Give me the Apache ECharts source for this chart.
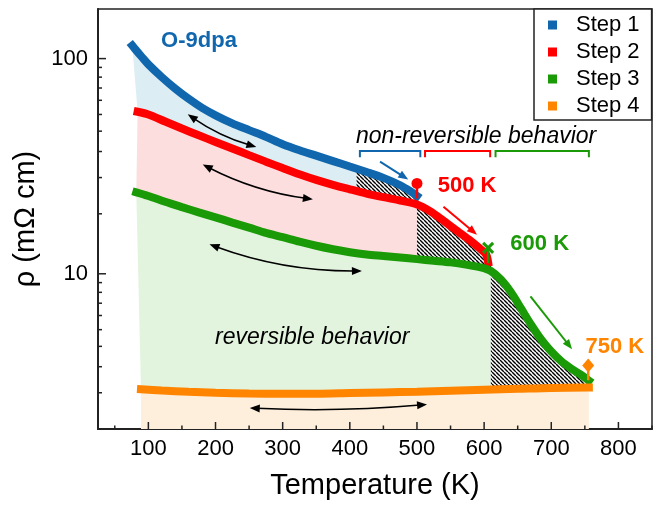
<!DOCTYPE html>
<html>
<head>
<meta charset="utf-8">
<script src="https://cdn.jsdelivr.net/npm/echarts@6/dist/echarts.min.js"></script>
<style>
  html, body { margin: 0; padding: 0; background: #fff; }
  #chart { width: 657px; height: 505px; }
</style>
</head>
<body>
<div id="chart"></div>
<script>
const FONT = "'Liberation Sans', Arial, sans-serif";

// [temperature (K), resistivity (mOhm cm)]
const step1 = [[76, 115], [80, 111], [90, 102], [100, 94], [120, 82], [140, 72.5], [160, 65],
  [180, 59], [200, 54.5], [225, 50], [250, 46.5], [275, 43.3], [300, 40], [325, 37.5],
  [350, 35.4], [375, 33.4], [400, 31.5], [425, 29.7], [450, 27.9], [475, 25.8], [490, 24.2],
  [500, 23]];
const step2 = [[84, 56.6], [100, 55], [125, 51], [150, 47.3], [175, 44], [200, 41], [225, 38.2],
  [250, 35.6], [275, 33.2], [300, 31], [325, 29], [350, 27.3], [375, 25.9], [400, 24.7],
  [425, 23.6], [450, 22.7], [475, 21.9], [500, 21], [520, 19.5], [540, 17.6], [560, 15.8],
  [580, 14.2], [595, 13], [603, 12.3], [606, 11.3]];
const step3 = [[82, 23.9], [100, 23], [125, 21.6], [150, 20.4], [175, 19.3], [200, 18.3],
  [225, 17.3], [250, 16.4], [275, 15.5], [300, 14.8], [325, 14.1], [350, 13.5], [375, 13],
  [400, 12.6], [425, 12.3], [450, 12.1], [475, 11.9], [500, 11.7], [525, 11.5], [550, 11.3],
  [575, 11], [595, 10.7], [610, 10.3], [625, 9.4], [640, 8.2], [655, 6.9], [670, 5.8],
  [685, 4.95], [700, 4.35], [715, 3.92], [730, 3.62], [745, 3.38], [756, 3.19]];
const step4 = [[89, 2.91], [120, 2.87], [160, 2.83], [200, 2.8], [250, 2.78], [300, 2.77],
  [350, 2.77], [400, 2.79], [450, 2.81], [500, 2.83], [550, 2.86], [600, 2.89], [650, 2.92],
  [700, 2.95], [756, 2.96]];

const stepNames = ['Step 1', 'Step 2', 'Step 3', 'Step 4'];
const xTickMajor = [100, 200, 300, 400, 500, 600, 700, 800];
const xTickMinor = [50, 150, 250, 350, 450, 550, 650, 750, 850];
const yTickMajor = [10, 100];
const yTickMinor = [1.9, 2.8, 3.7, 4.6, 5.5, 6.4, 7.3, 8.2, 9.1, 19, 28, 37, 46, 55, 64, 73, 82, 91];

const X_MIN = 25, X_MAX = 850, Y_MIN = 1.9, Y_MAX = 170;

const C1 = '#1167ae', C2 = '#ff0000', C3 = '#1a9a06', C4 = '#ff8500';
const F1 = '#dceef4', F2 = '#fddede', F3 = '#e2f4de', F4 = '#feefdc';

// hatch pattern for the non-reversible regions
const hatch = (() => {
  const s = 4;
  const c = document.createElement('canvas');
  c.width = s; c.height = s;
  const g = c.getContext('2d');
  g.fillStyle = '#fff';
  g.fillRect(0, 0, s, s);
  g.strokeStyle = '#000';
  g.lineWidth = 1.4;
  g.beginPath();
  for (let k = -1; k <= 1; k++) {
    g.moveTo(k * s, 0);
    g.lineTo(k * s + s, s);
  }
  g.stroke();
  return { image: c, repeat: 'repeat' };
})();

// value of a curve at t (log-linear between samples), used only for fill edges
function valueAt(curve, t) {
  if (t <= curve[0][0]) return curve[0];
  const last = curve[curve.length - 1];
  if (t >= last[0]) return last;
  for (let i = 1; i < curve.length; i++) {
    const [t1, v1] = curve[i - 1], [t2, v2] = curve[i];
    if (t <= t2) {
      const f = (t - t1) / (t2 - t1);
      return [t, Math.pow(10, Math.log10(v1) + f * (Math.log10(v2) - Math.log10(v1)))];
    }
  }
}
function segment(curve, t0, t1) {
  const a = Math.max(t0, curve[0][0]);
  const b = Math.min(t1, curve[curve.length - 1][0]);
  const inner = curve.filter(p => p[0] > a && p[0] < b);
  return [valueAt(curve, a), ...inner, valueAt(curve, b)];
}

function band(upper, lower, t0, t1, fill) {
  return {
    type: 'custom', silent: true, z: 1, data: [0],
    renderItem: (params, api) => {
      const top = segment(upper, t0, t1);
      const bottom = lower
        ? segment(lower, t0, t1).reverse()
        : [[top[top.length - 1][0], Y_MIN], [top[0][0], Y_MIN]];
      return {
        type: 'polygon',
        shape: { points: top.concat(bottom).map(p => api.coord(p)) },
        style: { fill: fill }
      };
    }
  };
}

function lineSeries(name, data, color) {
  return {
    type: 'line', name: name, data: data, z: 5,
    showSymbol: false, symbol: 'rect', smooth: 0.3,
    lineStyle: { width: 8, color: color, cap: 'square' },
    itemStyle: { color: color, borderWidth: 0 }
  };
}

// annotations (data coordinates)
const texts = [
  { text: 'O-9dpa', at: [119, 121], color: C1, font: 'bold 22px', align: 'left' },
  { text: 'non-reversible behavior', at: [588, 43.5], color: '#000', font: 'italic 23px', align: 'center' },
  { text: 'reversible behavior', at: [344, 5.07], color: '#000', font: 'italic 23px', align: 'center' },
  { text: '500 K', at: [531, 25.6], color: C2, font: 'bold 22px', align: 'left' },
  { text: '600 K', at: [639, 13.7], color: C3, font: 'bold 22px', align: 'left' },
  { text: '750 K', at: [751, 4.58], color: C4, font: 'bold 22px', align: 'left' }
];
const brackets = [
  { from: 415, to: 505, color: C1 },
  { from: 512, to: 609, color: C2 },
  { from: 617, to: 756, color: C3 }
];
const bracketTop = 37.2, bracketFoot = 34.8;
const doubleArrows = [
  { from: [158.7, 55.1], to: [260.8, 38.8], sag: 3 },
  { from: [181, 32.2], to: [345, 22.2], sag: 5 },
  { from: [191, 13.7], to: [418, 10.3], sag: 7 },
  { from: [251, 2.38], to: [515, 2.47], sag: 3 }
];
const singleArrows = [
  { from: [445, 33.2], to: [487, 27.4], color: C1 },
  { from: [539.5, 20.5], to: [589.4, 15.2], color: C2 },
  { from: [669, 7.86], to: [731, 4.46], color: C3 }
];
const pins = [
  { t: 500, head: 26.3, foot: 22.4, shape: 'circle', color: C2 },
  { t: 606, head: 13.2, foot: 11.2, shape: 'cross', color: C3 },
  { t: 755, head: 3.75, foot: 3.2, shape: 'diamond', color: C4 }
];

function arrowHead(tip, dir, color) {
  const len = Math.hypot(dir[0], dir[1]) || 1;
  const ux = dir[0] / len, uy = dir[1] / len;
  const L = 10, W = 4;
  const bx = tip[0] - ux * L, by = tip[1] - uy * L;
  return {
    type: 'polygon',
    shape: { points: [tip, [bx - uy * W, by + ux * W], [bx + uy * W, by - ux * W]] },
    style: { fill: color }
  };
}

const annotationSeries = {
  type: 'custom', silent: true, z: 8, data: [0],
  renderItem: (params, api) => {
    const children = [];
    brackets.forEach(b => {
      const a = api.coord([b.from, bracketFoot]), c = api.coord([b.from, bracketTop]);
      const d = api.coord([b.to, bracketTop]), e = api.coord([b.to, bracketFoot]);
      children.push({ type: 'polyline', shape: { points: [a, c, d, e] },
        style: { stroke: b.color, lineWidth: 2, fill: null } });
    });
    doubleArrows.forEach(d => {
      const p1 = api.coord(d.from), p2 = api.coord(d.to);
      const dx = p2[0] - p1[0], dy = p2[1] - p1[1], len = Math.hypot(dx, dy);
      const nx = -dy / len, ny = dx / len;
      const cp = [(p1[0] + p2[0]) / 2 + nx * 2 * d.sag, (p1[1] + p2[1]) / 2 + ny * 2 * d.sag];
      const u1 = [p1[0] - cp[0], p1[1] - cp[1]], u2 = [p2[0] - cp[0], p2[1] - cp[1]];
      const l1 = Math.hypot(u1[0], u1[1]), l2 = Math.hypot(u2[0], u2[1]);
      const s1 = [p1[0] - u1[0] / l1 * 7, p1[1] - u1[1] / l1 * 7];
      const s2 = [p2[0] - u2[0] / l2 * 7, p2[1] - u2[1] / l2 * 7];
      children.push({ type: 'bezierCurve',
        shape: { x1: s1[0], y1: s1[1], x2: s2[0], y2: s2[1], cpx1: cp[0], cpy1: cp[1] },
        style: { stroke: '#000', lineWidth: 1.5, fill: null } });
      children.push(arrowHead(p1, u1, '#000'));
      children.push(arrowHead(p2, u2, '#000'));
    });
    singleArrows.forEach(s => {
      const p1 = api.coord(s.from), p2 = api.coord(s.to);
      const dir = [p2[0] - p1[0], p2[1] - p1[1]], len = Math.hypot(dir[0], dir[1]);
      const e = [p2[0] - dir[0] / len * 7, p2[1] - dir[1] / len * 7];
      children.push({ type: 'line', shape: { x1: p1[0], y1: p1[1], x2: e[0], y2: e[1] },
        style: { stroke: s.color, lineWidth: 2 } });
      children.push(arrowHead(p2, dir, s.color));
    });
    pins.forEach(p => {
      const h = api.coord([p.t, p.head]), f = api.coord([p.t, p.foot]);
      children.push({ type: 'line', shape: { x1: h[0], y1: h[1], x2: f[0], y2: f[1] },
        style: { stroke: p.color, lineWidth: 2.5 } });
      if (p.shape === 'circle') {
        children.push({ type: 'circle', shape: { cx: h[0], cy: h[1], r: 5.5 }, style: { fill: p.color } });
      } else if (p.shape === 'diamond') {
        children.push({ type: 'polygon',
          shape: { points: [[h[0], h[1] - 7], [h[0] + 6, h[1]], [h[0], h[1] + 7], [h[0] - 6, h[1]]] },
          style: { fill: p.color } });
      } else {
        children.push({ type: 'polyline', shape: { points: [[h[0] - 5, h[1] - 5], [h[0] + 5, h[1] + 5]] },
          style: { stroke: p.color, lineWidth: 3, fill: null } });
        children.push({ type: 'polyline', shape: { points: [[h[0] + 5, h[1] - 5], [h[0] - 5, h[1] + 5]] },
          style: { stroke: p.color, lineWidth: 3, fill: null } });
      }
    });
    texts.forEach(t => {
      const p = api.coord(t.at);
      children.push({ type: 'text', x: p[0], y: p[1],
        style: { text: t.text, fill: t.color, font: t.font + ' ' + FONT,
          textAlign: t.align, align: t.align, textVerticalAlign: 'middle', verticalAlign: 'middle' } });
    });
    return { type: 'group', children: children };
  }
};

// inward ticks drawn through the axis scales
const tickSeries = {
  type: 'custom', silent: true, z: 9, data: [0],
  renderItem: (params, api) => {
    const children = [];
    const xt = (v, len) => {
      const p = api.coord([v, Y_MIN]);
      children.push({ type: 'line', shape: { x1: p[0], y1: p[1], x2: p[0], y2: p[1] - len },
        style: { stroke: '#222', lineWidth: 1.5 } });
    };
    const yt = (v, len) => {
      const p = api.coord([X_MIN, v]);
      children.push({ type: 'line', shape: { x1: p[0], y1: p[1], x2: p[0] + len, y2: p[1] },
        style: { stroke: '#222', lineWidth: 1.5 } });
    };
    xTickMajor.forEach(v => xt(v, 7));
    xTickMinor.forEach(v => xt(v, 3.5));
    yTickMajor.forEach(v => yt(v, 8));
    yTickMinor.forEach(v => yt(v, 4));
    return { type: 'group', children: children };
  }
};

const chart = echarts.init(document.getElementById('chart'));
chart.setOption({
  animation: false,
  backgroundColor: '#fff',
  grid: { left: 98, right: 5, top: 9, bottom: 75, show: true, borderColor: '#222', borderWidth: 1.5, backgroundColor: 'transparent' },
  xAxis: {
    type: 'value', min: X_MIN, max: X_MAX, interval: 25,
    name: 'Temperature (K)', nameLocation: 'middle', nameGap: 42,
    nameTextStyle: { fontSize: 29, fontFamily: FONT, color: '#000' },
    axisLine: { lineStyle: { color: '#222', width: 2 } },
    axisTick: { show: false }, splitLine: { show: false },
    axisLabel: { fontSize: 22, fontFamily: FONT, color: '#000', margin: 9,
      formatter: v => (v % 100 === 0 && v >= 100 && v <= 800) ? String(v) : '' }
  },
  yAxis: {
    type: 'log', logBase: 10, min: Y_MIN, max: Y_MAX,
    name: 'ρ (mΩ cm)', nameLocation: 'middle', nameGap: 52,
    nameTextStyle: { fontSize: 29, fontFamily: FONT, color: '#000' },
    axisLine: { lineStyle: { color: '#222', width: 2 } },
    axisTick: { show: false }, splitLine: { show: false }, minorTick: { show: false },
    axisLabel: { fontSize: 22, fontFamily: FONT, color: '#000', margin: 10,
      formatter: v => {
        const l = Math.log10(v);
        return (Math.abs(l - Math.round(l)) < 1e-6 && Math.round(l) >= 1) ? String(Math.round(v)) : '';
      } }
  },
  legend: {
    data: stepNames, orient: 'vertical', left: 534, top: 9,
    icon: 'rect', itemWidth: 9, itemHeight: 9, itemGap: 1,
    padding: [3, 12, 1, 14],
    backgroundColor: '#fff', borderColor: '#222', borderWidth: 1.5,
    itemStyle: { borderWidth: 0 },
    textStyle: { fontSize: 22, fontFamily: FONT, color: '#000', lineHeight: 26, padding: [0, 0, 0, 14] }
  },
  series: [
    band(step1, step2, 0, 410, F1),
    band(step1, step2, 410, 500, hatch),
    band(step2, step3, 0, 500, F2),
    band(step2, step3, 500, 700, hatch),
    band(step3, step4, 0, 610, F3),
    band(step3, step4, 610, 900, hatch),
    band(step4, null, 0, 900, F4),
    lineSeries(stepNames[0], step1, C1),
    lineSeries(stepNames[1], step2, C2),
    lineSeries(stepNames[2], step3, C3),
    lineSeries(stepNames[3], step4, C4),
    annotationSeries,
    tickSeries
  ]
});
</script>
</body>
</html>
